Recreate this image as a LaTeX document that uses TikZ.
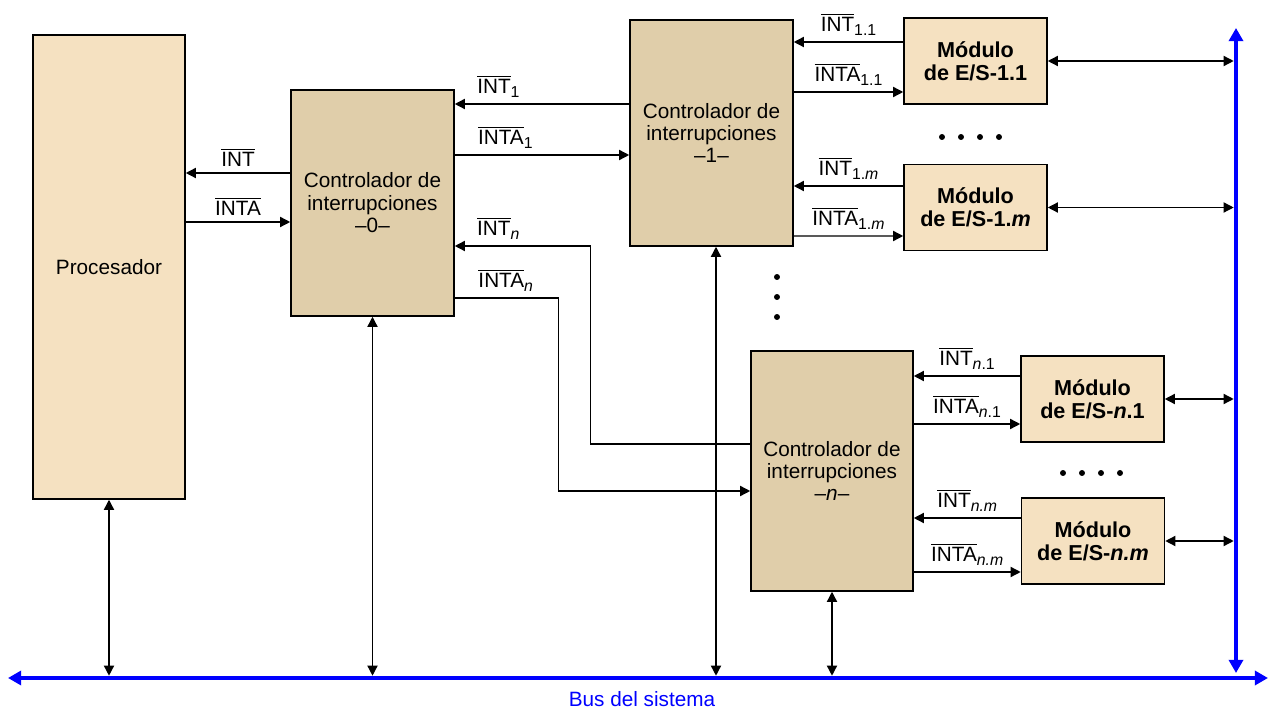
\documentclass[tikz,border=0pt]{standalone}
\usepackage{fontspec}
\setmainfont{Liberation Sans}
\usetikzlibrary{arrows.meta,calc}
\definecolor{procfill}{RGB}{245,225,193}
\definecolor{ctrlfill}{RGB}{224,206,170}
\newcommand{\senal}[1]{$\overline{\mbox{#1}}$}
\newcommand{\subind}[1]{\raisebox{-2.4pt}{\fontsize{9}{9}\selectfont #1}}

\begin{document}
\begin{tikzpicture}[x=0.02cm,y=-0.02cm,
    font=\fontsize{11.8}{12.8}\selectfont,
    caja/.style={draw,line width=0.9pt,align=center,inner sep=0pt},
    procbox/.style={caja,fill=procfill},
    ctrl/.style={caja,fill=ctrlfill,minimum width=3.26cm},
    modulo/.style={caja,fill=procfill,font=\fontsize{12.3}{13.2}\selectfont\bfseries,minimum width=2.86cm,minimum height=1.72cm},
    flecha/.style={line width=0.8pt,-{Triangle[length=5.8pt,width=5.8pt]}},
    doble/.style={line width=0.8pt,{Triangle[length=5.8pt,width=5.8pt]}-{Triangle[length=5.8pt,width=5.8pt]}},
    alBus/.style={doble,shorten >=1.3pt},
    bus/.style={blue,line width=2.6pt,{Triangle[length=7.5pt,width=8pt]}-{Triangle[length=7.5pt,width=8pt]}}]

\useasboundingbox (0,0) rectangle (1272,709);

% bus del sistema
\coordinate (busL) at (8,678);
\coordinate (busR) at (1268,678);
\coordinate (busT) at (1236,28);
\coordinate (busB) at (1236,673);
\draw[bus] (busL) -- (busR);
\draw[bus] (busT) -- (busB);
\node[blue] (buslbl) at (642,699) {Bus del sistema};

% bloques
\node[procbox,minimum width=3.04cm,minimum height=9.28cm] (proc) at (109,267) {Procesador};
\node[ctrl,minimum height=4.52cm] (c0) at (372.5,203) {Controlador de\\interrupciones\\–0–};
\node[ctrl,minimum height=4.52cm] (c1) at (711.5,133) {Controlador de\\interrupciones\\–1–};
\node[ctrl,minimum width=3.24cm,minimum height=4.8cm] (cn) at (832,471) {Controlador de\\interrupciones\\–\textit{n}–};
\node[modulo] (m11) at (975.5,61) {Módulo\\de E/S-1.1};
\node[modulo] (m1m) at (975.5,207.5) {Módulo\\de E/S-1.\textit{m}};
\node[modulo] (mn1) at (1092.5,399) {Módulo\\de E/S-\textit{n}.1};
\node[modulo] (mnm) at (1093,541) {Módulo\\de E/S-\textit{n.m}};

% procesador - controlador 0
\draw[flecha] ($(c0.west)+(0,-30)$) -- node[above] (lint) {\senal{INT}} ($(proc.east)+(0,-94)$);
\draw[flecha] ($(proc.east)+(0,-45)$) -- node[above] (linta) {\senal{INTA}} ($(c0.west)+(0,19)$);

% controlador 0 - controladores 1 y n
\draw[flecha] ($(c1.west)+(0,-29)$) -- node[above,pos=0.75] (lint1) {\senal{INT}\subind{1}} ($(c0.east)+(0,-99)$);
\draw[flecha] ($(c0.east)+(0,-48)$) -- node[above,pos=0.29] (linta1) {\senal{INTA}\subind{1}} ($(c1.west)+(0,22)$);
\draw[flecha] ($(cn.west)+(0,-27)$) -| ($(c0.east)+(136,43)$) -- node[above,pos=0.68] (lintn) {\senal{INT}\subind{\textit{n}}} ($(c0.east)+(0,43)$);
\draw[flecha] ($(c0.east)+(0,95)$) -- node[above,pos=0.49] (lintan) {\senal{INTA}\subind{\textit{n}}} ($(c0.east)+(104,95)$) |- ($(cn.west)+(0,20)$);

% controladores - modulos
\draw[flecha] ($(m11.west)+(0,-19)$) -- node[above] (lint11) {\senal{INT}\subind{1.1}} ($(c1.east)+(0,-91)$);
\draw[flecha] ($(c1.east)+(0,-41)$) -- node[above] (linta11) {\senal{INTA}\subind{1.1}} ($(m11.west)+(0,31)$);
\draw[flecha] ($(m1m.west)+(0,-21.5)$) -- node[above] (lint1m) {\senal{INT}\subind{1.\textit{m}}} ($(c1.east)+(0,53)$);
\draw[flecha] ($(c1.east)+(0,103)$) -- node[above] (linta1m) {\senal{INTA}\subind{1.\textit{m}}} ($(m1m.west)+(0,28.5)$);
\draw[flecha] ($(mn1.west)+(0,-23)$) -- node[above] (lintn1) {\senal{INT}\subind{\textit{n}.1}} ($(cn.east)+(0,-95)$);
\draw[flecha] ($(cn.east)+(0,-47)$) -- node[above] (lintan1) {\senal{INTA}\subind{\textit{n}.1}} ($(mn1.west)+(0,25)$);
\draw[flecha] ($(mnm.west)+(0,-23)$) -- node[above] (lintnm) {\senal{INT}\subind{\textit{n.m}}} ($(cn.east)+(0,47)$);
\draw[flecha] ($(cn.east)+(0,101)$) -- node[above] (lintanm) {\senal{INTA}\subind{\textit{n.m}}} ($(mnm.west)+(0,31)$);

% conexiones al bus
\draw[alBus] (proc.south) -- (proc.south |- busL);
\draw[alBus] (c0.south) -- (c0.south |- busL);
\draw[alBus] ($(c1.south)+(4.5,0)$) -- ($(c1.south |- busL)+(4.5,0)$);
\draw[alBus] (cn.south) -- (cn.south |- busL);
\draw[alBus] (m11.east) -- (m11.east -| busT);
\draw[alBus] (m1m.east) -- (m1m.east -| busT);
\draw[alBus] (mn1.east) -- (mn1.east -| busT);
\draw[alBus] (mnm.east) -- (mnm.east -| busT);

% puntos suspensivos
\foreach \x in {942,961,980,999} \fill (\x,137) circle[radius=1.7pt];
\foreach \x in {1063,1082,1101,1120} \fill (\x,473) circle[radius=1.7pt];
\foreach \y in {277,297,317} \fill (777,\y) circle[radius=1.7pt];
\end{tikzpicture}
\end{document}
